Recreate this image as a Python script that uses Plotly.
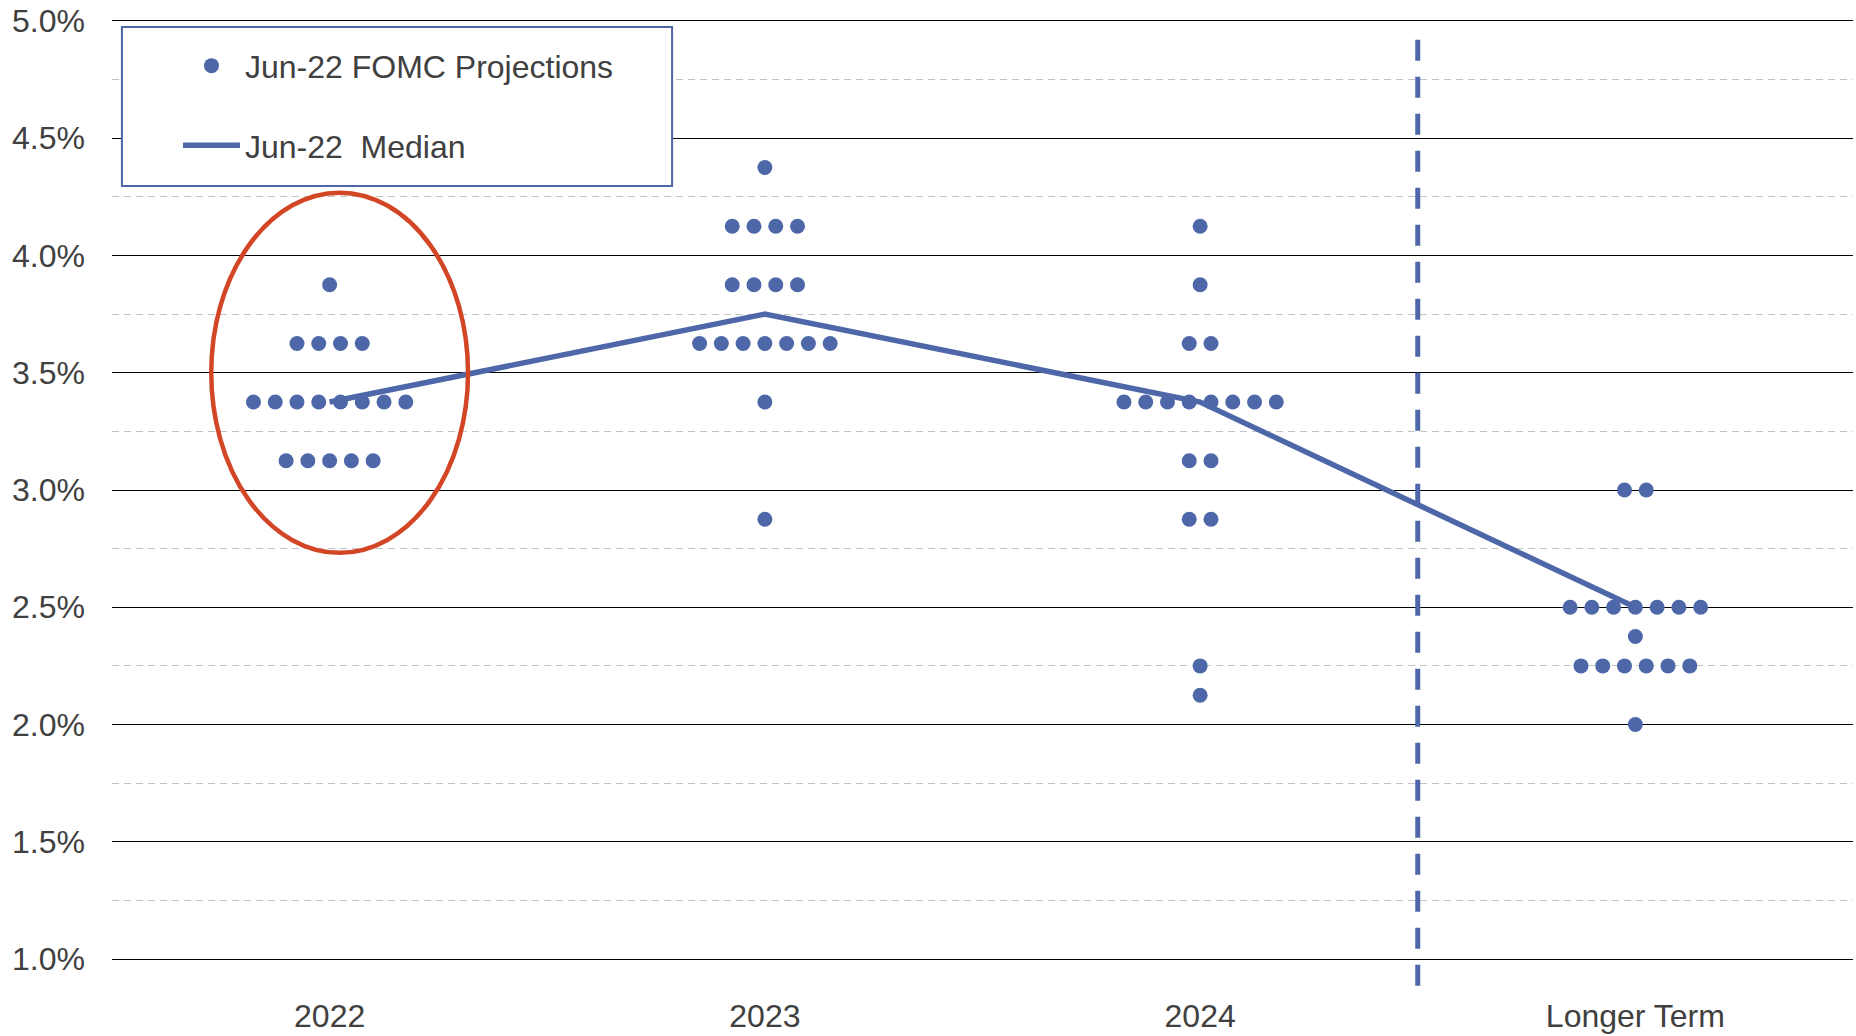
import plotly.graph_objects as go

# ---- data ----
categories = ["2022", "2023", "2024", "Longer Term"]

rates_2022 = [3.875, 3.625, 3.375, 3.125]
counts_2022 = [1, 4, 8, 5]

rates_2023 = [4.375, 4.125, 3.875, 3.625, 3.375, 2.875]
counts_2023 = [1, 4, 4, 7, 1, 1]

rates_2024 = [4.125, 3.875, 3.625, 3.375, 3.125, 2.875, 2.25, 2.125]
counts_2024 = [1, 1, 2, 8, 2, 2, 1, 1]

rates_lt = [3.0, 2.5, 2.375, 2.25, 2.0]
counts_lt = [2, 7, 1, 6, 1]

median_values = [3.375, 3.75, 3.375, 2.5]

y_tick_values = [1.0, 1.5, 2.0, 2.5, 3.0, 3.5, 4.0, 4.5, 5.0]
y_tick_labels = [f"{v:.1f}%" for v in y_tick_values]

# ---- style ----
BLUE = "#4E67A8"
RED = "#D24625"
TEXT = "#404040"
FONT = "Liberation Sans, Arial, sans-serif"
FS = 32
DOT_SPACING = 0.05

groups = [
    (rates_2022, counts_2022),
    (rates_2023, counts_2023),
    (rates_2024, counts_2024),
    (rates_lt, counts_lt),
]

dot_x, dot_y = [], []
for ci, (rates, counts) in enumerate(groups):
    for r, n in zip(rates, counts):
        for j in range(n):
            dot_x.append(ci + (j - (n - 1) / 2) * DOT_SPACING)
            dot_y.append(r)

cat_pos = list(range(len(categories)))

fig = go.Figure()
fig.add_trace(go.Scatter(
    x=dot_x, y=dot_y, mode="markers",
    marker=dict(color=BLUE, size=15, line=dict(width=0)),
    name="Jun-22 FOMC Projections", legendgroup="a",
    cliponaxis=False,
))
fig.add_trace(go.Scatter(
    x=cat_pos, y=median_values, mode="lines",
    line=dict(color=BLUE, width=5.5),
    name="Jun-22  Median", legendgroup="b",
))

x_min, x_max = -0.5, len(categories) - 0.5
sep_x = len(categories) - 1.5
sep_paper = (sep_x - x_min) / (x_max - x_min)

shapes = [
    # separator before Longer Term (drawn top -> bottom so dashes start at top)
    dict(type="line", xref="paper", yref="paper",
         x0=sep_paper, x1=sep_paper, y0=0.980, y1=-0.031,
         line=dict(color=BLUE, width=5, dash="21px,16px"), layer="above"),
    # red ellipse around 2022
    dict(type="circle", xref="x", yref="y",
         x0=-0.272, x1=0.318, y0=2.732, y1=4.268,
         line=dict(color=RED, width=4.5), layer="above"),
    # legend box
    dict(type="rect", xref="paper", yref="paper",
         x0=0.0057, x1=0.3217, y0=0.824, y1=0.9936,
         line=dict(color=BLUE, width=2), fillcolor="white", layer="above"),
]

fig.update_layout(
    width=1856, height=1036,
    margin=dict(l=112, r=3, t=21, b=77),
    paper_bgcolor="white", plot_bgcolor="white",
    font=dict(family=FONT, size=FS, color=TEXT),
    shapes=shapes,
    showlegend=True,
    legend=dict(
        x=0.0379, y=0.9815, xanchor="left", yanchor="top",
        bgcolor="rgba(0,0,0,0)", borderwidth=0,
        font=dict(family=FONT, size=FS, color=TEXT),
        itemwidth=57, tracegroupgap=35, traceorder="grouped",
    ),
    hovermode=False,
)

fig.update_xaxes(
    range=[x_min, x_max],
    tickmode="array", tickvals=cat_pos, ticktext=categories,
    showgrid=False, zeroline=False,
    showline=True, mirror=True, linecolor="black", linewidth=1.3,
    ticks="", ticklabelstandoff=28,
    tickfont=dict(family=FONT, size=FS, color=TEXT),
)
fig.update_yaxes(
    range=[1.0, 5.0],
    tickmode="array", tickvals=y_tick_values, ticktext=y_tick_labels,
    showgrid=True, gridcolor="black", gridwidth=1.3,
    minor=dict(dtick=0.25, showgrid=True, gridcolor="#C4C4C4",
               griddash="7px,5px", gridwidth=1.2),
    zeroline=False, showline=False, ticks="",
    ticklabelstandoff=26,
    tickfont=dict(family=FONT, size=FS, color=TEXT),
)

fig.write_html("out.html", config={"displayModeBar": False},
               post_script="document.body.style.margin='0';")
